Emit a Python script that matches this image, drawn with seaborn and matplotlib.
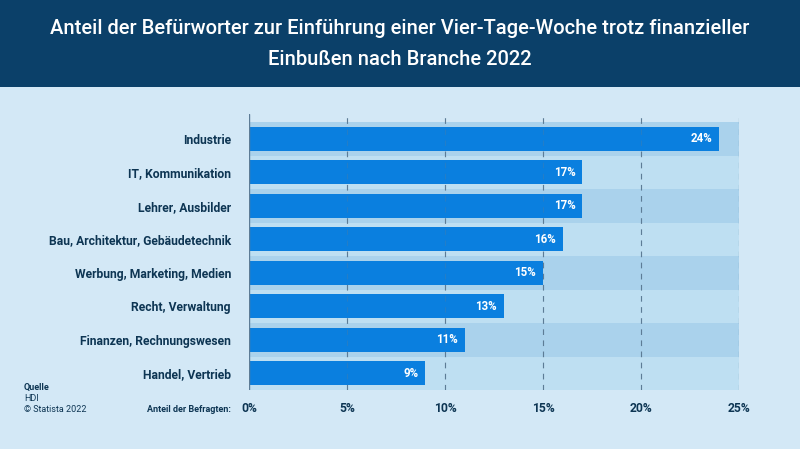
import matplotlib
matplotlib.use("Agg")
import matplotlib.pyplot as plt
import seaborn as sns
import pandas as pd

categories = ["Industrie", "IT, Kommunikation", "Lehrer, Ausbilder",
              "Bau, Architektur, Gebäudetechnik", "Werbung, Marketing, Medien",
              "Recht, Verwaltung", "Finanzen, Rechnungswesen", "Handel, Vertrieb"]
values = [24, 17, 17, 16, 15, 13, 11, 9]
xticks = [0, 5, 10, 15, 20, 25]
xtick_labels = ["0%", "5%", "10%", "15%", "20%", "25%"]
title = "Anteil der Befürworter zur Einführung einer Vier-Tage-Woche trotz finanzieller\nEinbußen nach Branche 2022"

df = pd.DataFrame({"Branche": categories, "Anteil": values})

BG = "#d3e8f6"
HEADER = "#0b4069"
BAR = "#0a7fdf"
BAND_DARK = "#aad2ec"
BAND_LIGHT = "#bedff2"
TEXT = "#0d3553"
GRID = "#5d7c96"

sns.set_theme(style="white")
plt.rcParams["font.family"] = ["Roboto", "DejaVu Sans"]

fig = plt.figure(figsize=(8, 4.49), dpi=100, facecolor=BG)
# header band
fig.patches.append(plt.Rectangle((0, 1 - 87 / 449), 1, 87 / 449, transform=fig.transFigure,
                                 facecolor=HEADER, edgecolor="none", zorder=0))
fig.text(0.5, 1 - 44 / 449, title, ha="center", va="center", color="white",
         fontsize=14.5, fontweight="medium", linespacing=1.85)

ax = fig.add_axes([249 / 800, 1 - 390 / 449, 490 / 800, 276 / 449])
ax.set_facecolor("none")

n = len(categories)
for i in range(n):
    ax.axhspan(i - 0.5, i + 0.5, xmin=0, xmax=1,
               color=BAND_DARK if i % 2 == 0 else BAND_LIGHT, zorder=0, lw=0)

sns.barplot(data=df, y="Branche", x="Anteil", orient="h", color=BAR,
            width=0.72, saturation=1, ax=ax, zorder=3, linewidth=0, edgecolor="none")

for i, v in enumerate(values):
    ax.text(v - 0.35, i, f"{v}%", ha="right", va="center", color="white",
            fontsize=8.3, fontweight="bold", zorder=4)

ax.set_xlim(0, 25)
ax.set_ylim(n - 0.5, -0.74)
for x in xticks[1:]:
    ax.axvline(x, color=GRID, lw=0.8, ls=(0, (5, 5)), zorder=2)
    ax.axvline(x, color=GRID, lw=0.8, ls=(0, (5, 5)), zorder=3.5, alpha=0.3)
ax.axvline(0, color=GRID, lw=1.0, zorder=5)

ax.set_xticks(xticks)
ax.set_xticklabels(xtick_labels, fontsize=8.7, fontweight="bold", color=TEXT)
ax.set_yticks(range(n))
ax.set_yticklabels(categories, fontsize=8.7, fontweight="bold", color=TEXT)
ax.tick_params(axis="y", length=0, pad=13)
ax.tick_params(axis="x", length=0, pad=9)
ax.set_xlabel("")
ax.set_ylabel("")
for s in ax.spines.values():
    s.set_visible(False)

fig.text(231 / 800, 1 - 409 / 449, "Anteil der Befragten:", ha="right", va="center",
         fontsize=6.5, fontweight="bold", color=TEXT)
fig.text(24 / 800, 1 - 387 / 449, "Quelle", ha="left", va="center",
         fontsize=6.5, fontweight="bold", color=TEXT)
fig.text(24 / 800, 1 - 398.5 / 449, "HDI", ha="left", va="center",
         fontsize=6.5, color=TEXT)
fig.text(24 / 800, 1 - 410 / 449, "© Statista 2022", ha="left", va="center",
         fontsize=6.5, color=TEXT)

fig.savefig("out.png", dpi=100, facecolor=BG)
